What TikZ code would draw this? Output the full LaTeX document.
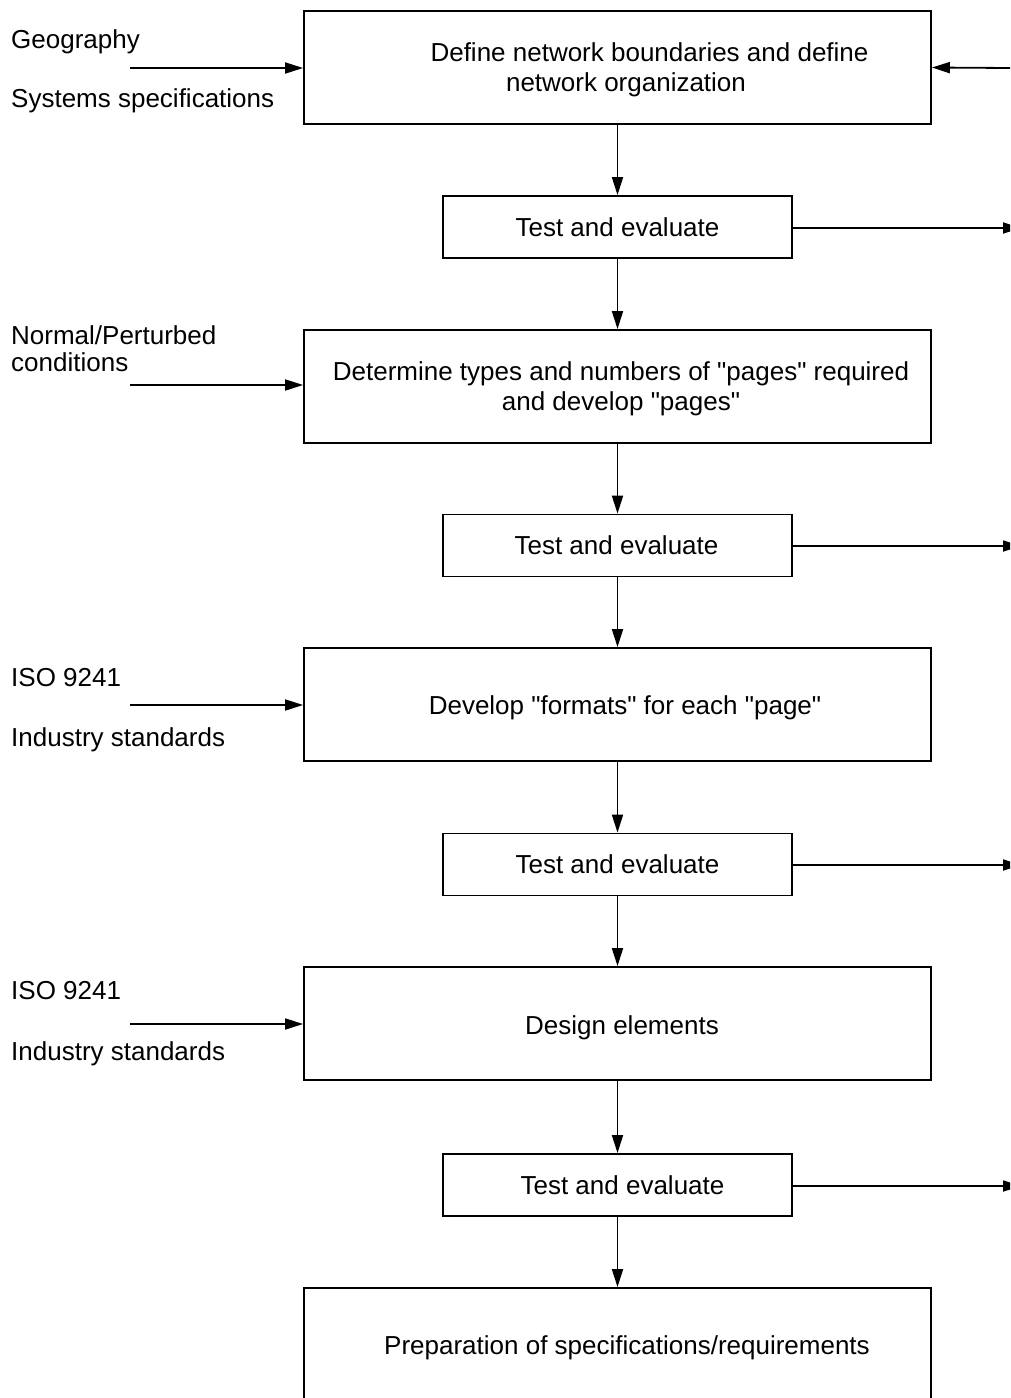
\documentclass[tikz,border=0pt]{standalone}
\usepackage{fontspec}
\setmainfont{Liberation Sans}[Ligatures=TeXOff]
\usetikzlibrary{arrows.meta}
\begin{document}
\begin{tikzpicture}[x=1pt,y=-1pt,
  every node/.style={font=\fontsize{26}{30}\selectfont},
  stage/.style={draw,line width=1.8pt,minimum width=627pt,minimum height=113pt,inner sep=0pt},
  check/.style={draw,line width=1.8pt,minimum width=349pt,minimum height=62pt,inner sep=0pt},
  txt/.style={align=center,inner sep=0pt},
  side/.style={anchor=base west,inner sep=0pt,align=left},
  flow/.style={line width=1.8pt,-{Triangle[length=18pt,width=11pt]}}]
\useasboundingbox (0,0) rectangle (1010,1398);
\clip (0,0) rectangle (1010,1398);

% main stages
\node[stage] (b1) at (617.5,67.5) {};
\node[txt,anchor=base] (t1a) at (649.5,61.5) {Define network boundaries and define};
\node[txt,anchor=base] (t1b) at (626,91.5) {network organization};
\node[stage] (b3) at (617.5,386.5) {};
\node[txt] (t3) at (621,388.5) {Determine types and numbers of "pages" required\\and develop "pages"};
\node[stage] (b5) at (617.5,704.5) {};
\node[txt] (t5) at (625,708) {Develop "formats" for each "page"};
\node[stage] (b7) at (617.5,1023.5) {};
\node[txt] (t7) at (622,1027.5) {Design elements};
\node[stage] (b9) at (617.5,1344.5) {};
\node[txt] (t9) at (627,1348) {Preparation of specifications/requirements};

% test and evaluate steps
\node[check] (b2) at (617.5,227) {};
\node[txt] (t2) at (617.5,227) {Test and evaluate};
\node[check] (b4) at (617.5,545.5) {};
\node[txt] (t4) at (616.5,545.5) {Test and evaluate};
\node[check] (b6) at (617.5,864.5) {};
\node[txt] (t6) at (617.5,864.5) {Test and evaluate};
\node[check] (b8) at (617.5,1185) {};
\node[txt] (t8) at (622.5,1185) {Test and evaluate};

% vertical flow
\foreach \a/\b in {b1/b2,b2/b3,b3/b4,b4/b5,b5/b6,b6/b7,b7/b8,b8/b9}
  \draw[flow] (\a.south) -- (\b.north);

% feedback outputs to the right
\coordinate (r0) at (1010,68);
\draw[flow] (r0) -- (b1.east);
\foreach \b/\y in {b2/228,b4/546,b6/865,b8/1186}{
  \coordinate (r\b) at (1021,\y);
  \draw[flow] (\b.east |- r\b) -- (r\b);
}

% inputs from the left
\node[side] (g1) at (11,48) {Geography};
\node[side] (g2) at (11,107) {Systems specifications};
\node[side] (n1) at (11,344) {Normal/Perturbed};
\node[side] (n2) at (11,371) {conditions};
\node[side] (i1) at (11,686) {ISO 9241};
\node[side] (i2) at (11,746) {Industry standards};
\node[side] (j1) at (11,999) {ISO 9241};
\node[side] (j2) at (11,1060) {Industry standards};

\foreach \b/\y in {b1/68,b3/385,b5/705,b7/1024}{
  \coordinate (l\b) at (130,\y);
  \draw[flow] (l\b) -- (\b.west |- l\b);
}
\end{tikzpicture}
\end{document}
